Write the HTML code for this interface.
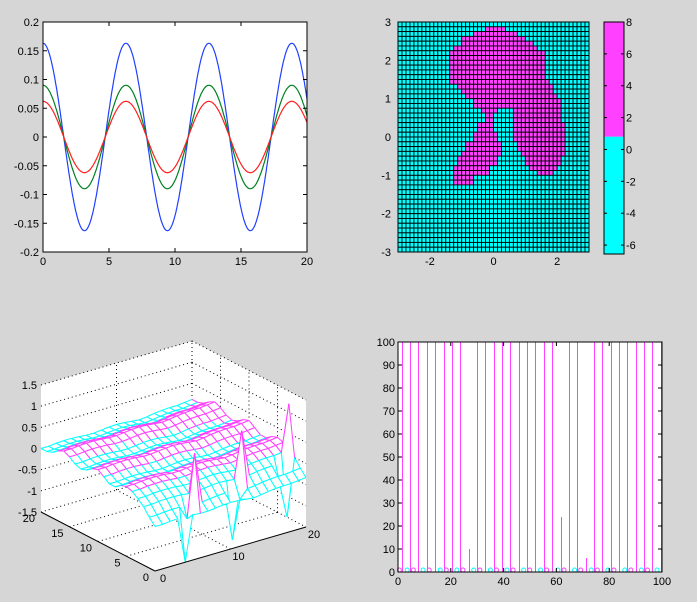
<!DOCTYPE html>
<html><head><meta charset="utf-8"><style>
html,body{margin:0;padding:0;background:#d6d6d6;}
svg{display:block;font-family:"Liberation Sans",sans-serif;font-size:11px;}
</style></head><body>
<svg id="fig" width="697" height="602" viewBox="0 0 697 602">
<rect width="697" height="602" fill="#d6d6d6"/>
<g id="p1"></g>
<g id="p2"></g>
<g id="p3"></g>
<g id="p4"></g>
</svg>
<script>
// ---------- data ----------
const sineAmps = [0.163, 0.09, 0.062];
const sineColors = ['#2040ff', '#008020', '#ff2020'];
const sineXTicks = [0, 5, 10, 15, 20];
const sineYTicks = [-0.2, -0.15, -0.1, -0.05, 0, 0.05, 0.1, 0.15, 0.2];
const sineYLabels = ['-0.2', '-0.15', '-0.1', '-0.05', '0', '0.05', '0.1', '0.15', '0.2'];

// pcolor: spans [yTop, yBottom, xStart, xEnd] where value is high
const pcolorSpans = [
 [2.89,2.76,-0.23,0.37],[2.76,2.63,-0.6,0.73],[2.63,2.5,-0.98,1.0],[2.5,2.37,-1.0,1.26],
 [2.37,2.23,-1.26,1.36],[2.23,1.5,-1.36,1.57],[1.5,1.37,-1.36,1.78],[1.37,1.23,-1.15,1.89],
 [1.23,1.1,-1.0,1.89],[1.1,0.97,-0.84,2.0],[0.97,0.76,-0.58,2.1],
 [0.76,0.63,-0.37,0.1],[0.76,0.63,0.63,2.1],
 [0.63,0.37,-0.26,-0.05],[0.63,0.37,0.63,2.15],
 [0.37,0.1,-0.47,0.0],[0.37,0.1,0.63,2.2],
 [0.1,-0.16,-0.58,0.1],[0.1,-0.16,0.63,2.2],
 [-0.16,-0.42,-0.84,0.21],[-0.16,-0.42,0.73,2.26],
 [-0.42,-0.55,-1.0,0.21],[-0.42,-0.55,0.84,2.2],
 [-0.55,-0.77,-1.1,0.16],[-0.55,-0.77,0.94,2.15],
 [-0.77,-0.9,-1.26,-0.1],[-0.77,-0.9,1.15,2.0],
 [-0.9,-1.03,-1.26,-0.1],[-0.9,-1.03,1.36,1.89],
 [-1.03,-1.24,-1.26,-0.58]
];
const pcolorXTicks = [-2, 0, 2];
const pcolorYTicks = [-3, -2, -1, 0, 1, 2, 3];
const cbarTicks = [-6, -4, -2, 0, 2, 4, 6, 8];

// mesh
const meshYProfile = [-0.45,-0.3,-0.12,0,0.1,0.15,0.1,0,0,0.1,0.2,0.15,0.05,0,0.05,0.15,0.22,0.15,0.05,0,0];
const meshXProfile = [0,0,0.02,0.03,0.03,0.02,0,0,0.02,0.04,0.05,0.04,0.02,0,0.02,0.05,0.07,0.08,0.08,0.1,0.12];
const meshSpikes = [[4,0,-1.5],[6,1,0.9],[5,1,-0.6],[11,1,-1.4],[13,2,1.0],[12,1,-0.5],[19,2,-1.35],[20,3,1.2],[18,2,-0.5]];
const meshZTicks = [-1.5,-1,-0.5,0,0.5,1,1.5];
const meshXTicks = [0,10,20];
const meshYTicks = [0,5,10,15,20];

// stem
const stemX = [1.5,4.7,7.7,11.1,14.1,17.4,20.5,23.6,26.8,29.9,33.1,36.2,39.4,42.6,45.7,48.9,52.0,55.2,58.3,61.6,64.6,67.8,71.1,74.2,77.4,80.6,83.7,86.9,90.0,93.2,96.3,99.5];
const stemH = [100,100,100,100,100,100,100,100,10,100,100,100,100,100,100,100,100,100,100,24,100,100,6,100,100,100,100,100,100,100,100,100];
const cyanDotsX = [3.5,9.5,16,22.3,28.7,35,41.3,47.6,54,60.6,66.9,73.2,79.5,85.9,92.2,98.1];
const magDotsX = [5.8,11.8,18.3,24.6,31,37.3,43.6,49.9,56.3,62.9,69.2,75.5,81.8,88.2,94.5,0.5];
const stemXTicks = [0,20,40,60,80,100];
const stemYTicks = [0,10,20,30,40,50,60,70,80,90,100];

const NS = 'http://www.w3.org/2000/svg';
function mk(parent, tag, attrs, text) {
  const el = document.createElementNS(NS, tag);
  for (const k in attrs) el.setAttribute(k, attrs[k]);
  if (text !== undefined) el.textContent = text;
  parent.appendChild(el);
  return el;
}

// ---------- plot 1 ----------
(function(){
  const g = document.getElementById('p1');
  const L=43,R=307,T=22,B=252;
  const xs = x => L + x/20*(R-L);
  const ys = y => B - (y+0.2)/0.4*(B-T);
  const bg = mk(g,'rect',{x:L,y:T,width:R-L,height:B-T,fill:'#fff'});
  
  
  sineAmps.forEach((a,i)=>{
    let d='';
    for(let k=0;k<=400;k++){const x=k*0.05; d+=(k?'L':'M')+xs(x).toFixed(1)+','+ys(a*Math.cos(x)).toFixed(1);}
    const p = mk(g,'path',{d:d,fill:'none',stroke:sineColors[i],'stroke-width':1.2});
    
    
  });
  const box = mk(g,'rect',{x:L,y:T,width:R-L,height:B-T,fill:'none',stroke:'#000'});
  
  
  sineXTicks.forEach(v=>{
    const x=xs(v);
    mk(g,'line',{x1:x,y1:B,x2:x,y2:B-4,stroke:'#000'});
    mk(g,'line',{x1:x,y1:T,x2:x,y2:T+4,stroke:'#000'});
    const t=mk(g,'text',{x:x,y:B+13,'text-anchor':'middle'},String(v));
    
    
  });
  sineYTicks.forEach((v,i)=>{
    const y=ys(v);
    mk(g,'line',{x1:L,y1:y,x2:L+4,y2:y,stroke:'#000'});
    mk(g,'line',{x1:R,y1:y,x2:R-4,y2:y,stroke:'#000'});
    const t=mk(g,'text',{x:L-4,y:y+4,'text-anchor':'end'},sineYLabels[i]);
    
    
  });
})();

// ---------- plot 2 ----------
(function(){
  const g = document.getElementById('p2');
  const L=398,R=589,T=22,B=252;
  const xs = x => L + (x+3)/6*(R-L);
  const ys = y => B - (y+3)/6*(B-T);
  const N=48, step=6/N;
  for(let r=0;r<N;r++){
    for(let c=0;c<N;c++){
      const cx=-3+(c+0.5)*step, cy=3-(r+0.5)*step;
      let hi=false;
      pcolorSpans.forEach(s=>{ if(cy<=s[0]&&cy>s[1]&&cx>=s[2]&&cx<=s[3]) hi=true; });
      const x0=xs(-3+c*step), y0=ys(3-r*step);
      const cell=mk(g,'rect',{x:x0.toFixed(2),y:y0.toFixed(2),width:(xs(step)-xs(0)).toFixed(2),height:(ys(0)-ys(step)).toFixed(2),fill:hi?'#ff40ff':'#00ffff',stroke:'#000','stroke-width':0.9});
      
      
    }
  }
  mk(g,'rect',{x:L,y:T,width:R-L,height:B-T,fill:'none',stroke:'#000'});
  pcolorXTicks.forEach(v=>{
    const t=mk(g,'text',{x:xs(v),y:B+13,'text-anchor':'middle'},String(v));
    
    
  });
  pcolorYTicks.forEach(v=>{
    const t=mk(g,'text',{x:L-7,y:ys(v)+4,'text-anchor':'end'},String(v));
    
    
  });
  // colorbar
  const cL=604,cR=624,cT=22,cB=254,vmax=8,vmin=-6.56;
  const cy = v => cT + (vmax-v)/(vmax-vmin)*(cB-cT);
  const mid=cy(0.8);
  const r1=mk(g,'rect',{x:cL,y:cT,width:cR-cL,height:mid-cT,fill:'#ff40ff'});
  
  
  const r2=mk(g,'rect',{x:cL,y:mid,width:cR-cL,height:cB-mid,fill:'#00ffff'});
  
  
  mk(g,'rect',{x:cL,y:cT,width:cR-cL,height:cB-cT,fill:'none',stroke:'#000'});
  cbarTicks.forEach(v=>{
    const y=cy(v);
    mk(g,'line',{x1:cR,y1:y,x2:cR-3,y2:y,stroke:'#000'});
    mk(g,'line',{x1:cL,y1:y,x2:cL+3,y2:y,stroke:'#000'});
    const t=mk(g,'text',{x:cR+2,y:y+4},String(v));
    
    
  });
})();

// ---------- plot 3 ----------
(function(){
  const g = document.getElementById('p3');
  const P = (x,y,z)=>[155 + x/20*151 - y/20*114, 571 - x/20*44 - y/20*59 - (z+1.5)/3*127];
  const pts = a=>a.map(p=>p[0].toFixed(1)+','+p[1].toFixed(1)).join(' ');
  const bg=mk(g,'polygon',{points:pts([P(0,20,1.5),P(20,20,1.5),P(20,0,1.5),P(20,0,-1.5),P(0,0,-1.5),P(0,20,-1.5)]),fill:'#fff'});
  
  
  const dot={stroke:'#000','stroke-dasharray':'1,3','stroke-width':1};
  const ln=(a,b,st)=>mk(g,'line',Object.assign({x1:a[0],y1:a[1],x2:b[0],y2:b[1]},st));
  meshZTicks.forEach(z=>{ ln(P(0,20,z),P(20,20,z),dot); ln(P(20,20,z),P(20,0,z),dot); });
  [10].forEach(x=>{ ln(P(x,20,-1.5),P(x,20,1.5),dot); ln(P(x,0,-1.5),P(x,20,-1.5),dot); });
  [5,10,15].forEach(y=>{ ln(P(20,y,-1.5),P(20,y,1.5),dot); ln(P(0,y,-1.5),P(20,y,-1.5),dot); });
  ln(P(20,20,-1.5),P(20,20,1.5),dot);
  const Z=[];
  for(let i=0;i<=20;i++){Z.push([]);for(let j=0;j<=20;j++){Z[i].push(meshXProfile[i]+meshYProfile[j]);}}
  meshSpikes.forEach(s=>{Z[s[0]][s[1]]=s[2];});
  const col=z=>z>0.11?'#ff40ff':'#00ffff';
  const quads=[];
  for(let i=0;i<20;i++)for(let j=0;j<20;j++)quads.push([i,j]);
  quads.sort((a,b)=>(b[0]+b[1])-(a[0]+a[1]) || (b[1]-a[1]));
  quads.forEach(([i,j])=>{
    const c=[[i,j],[i+1,j],[i+1,j+1],[i,j+1]];
    const pp=c.map(q=>P(q[0],q[1],Z[q[0]][q[1]]));
    const poly=mk(g,'polygon',{points:pts(pp),fill:'#fff',stroke:'none'});
    
    
    for(let k=0;k<4;k++){
      const a=c[k],b=c[(k+1)%4];
      const zm=(Z[a[0]][a[1]]+Z[b[0]][b[1]])/2;
      ln(pp[k],pp[(k+1)%4],{stroke:col(zm),'stroke-width':1});
    }
  });
  const ax={stroke:'#000','stroke-width':1};
  ln(P(0,20,-1.5),P(0,0,-1.5),ax); ln(P(0,0,-1.5),P(20,0,-1.5),ax);
  meshZTicks.forEach(z=>{
    const p=P(0,20,z);
    const t=mk(g,'text',{x:p[0]-4,y:p[1]+4,'text-anchor':'end'},String(z));
    
    
  });
  meshXTicks.forEach(x=>{
    const p=P(x,0,-1.5);
    const t=mk(g,'text',{x:p[0]+8,y:p[1]+11,'text-anchor':'middle'},String(x));
    
    
  });
  meshYTicks.forEach(y=>{
    const p=P(0,y,-1.5);
    const t=mk(g,'text',{x:p[0]-6,y:p[1]+10,'text-anchor':'end'},String(y));
    
    
  });
})();

// ---------- plot 4 ----------
(function(){
  const g = document.getElementById('p4');
  const L=398,R=662,T=342,B=572;
  const xs = x => L + x/100*(R-L);
  const ys = y => B - y/100*(B-T);
  const bg=mk(g,'rect',{x:L,y:T,width:R-L,height:B-T,fill:'#fff'});
  
  
  stemX.forEach((x,i)=>{
    const px=Math.round(xs(x))+0.5;
    const l=mk(g,'line',{x1:px,y1:ys(0),x2:px,y2:ys(stemH[i]),stroke:'#ff40ff','stroke-width':1,'shape-rendering':'crispEdges'});
    
    
  });
  cyanDotsX.forEach(x=>{
    const c=mk(g,'circle',{cx:xs(x),cy:ys(0)-2,r:2,fill:'none',stroke:'#00ffff'});
    
    
  });
  magDotsX.forEach(x=>{
    const c=mk(g,'circle',{cx:xs(x),cy:ys(0)-2,r:2,fill:'none',stroke:'#ff40ff'});
    
    
  });
  mk(g,'rect',{x:L,y:T,width:R-L,height:B-T,fill:'none',stroke:'#000'});
  stemXTicks.forEach(v=>{
    const x=xs(v);
    mk(g,'line',{x1:x,y1:B,x2:x,y2:B-4,stroke:'#000'});
    mk(g,'line',{x1:x,y1:T,x2:x,y2:T+4,stroke:'#000'});
    const t=mk(g,'text',{x:x,y:B+13,'text-anchor':'middle'},String(v));
    
    
  });
  stemYTicks.forEach(v=>{
    const y=ys(v);
    mk(g,'line',{x1:L,y1:y,x2:L+4,y2:y,stroke:'#000'});
    mk(g,'line',{x1:R,y1:y,x2:R-4,y2:y,stroke:'#000'});
    const t=mk(g,'text',{x:L-3,y:y+4,'text-anchor':'end'},String(v));
    
    
  });
})();
</script>
</body></html>
